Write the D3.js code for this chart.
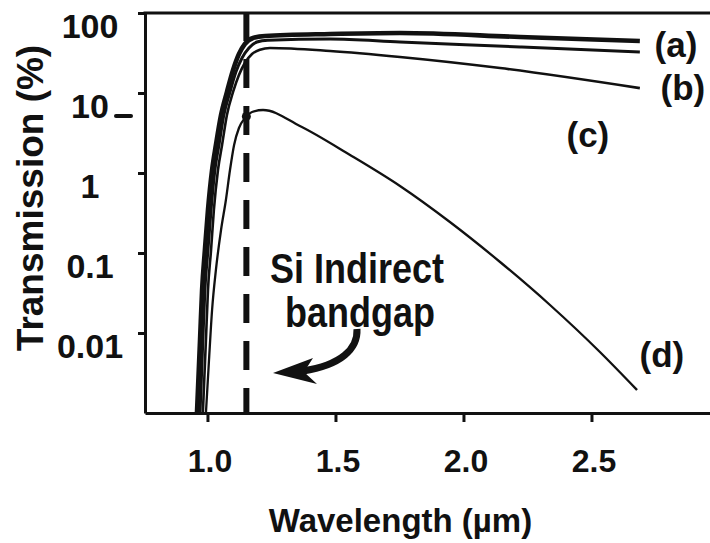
<!DOCTYPE html>
<html>
<head>
<meta charset="utf-8">
<script src="https://cdn.jsdelivr.net/npm/d3@7/dist/d3.min.js"></script>
<style>
  html, body { margin: 0; padding: 0; background: #fff; }
  svg { display: block; }
  text { font-family: "Liberation Sans", Arial, Helvetica, sans-serif; font-weight: bold; fill: #111; }
</style>
</head>
<body>
<svg id="chart" width="710" height="543"></svg>
<script>
// ---------------- DATA ----------------
const wavelengthTicks = [1.0, 1.5, 2.0, 2.5];
const wavelengthTickLabels = ["1.0", "1.5", "2.0", "2.5"];
const transmissionTicks = [100, 10, 1, 0.1, 0.01];
const transmissionTickLabels = ["100", "10", "1", "0.1", "0.01"];

// curve (a) – top
const curveA_wavelength   = [0.959, 0.971, 0.979, 0.990, 1.002, 1.018, 1.033, 1.053, 1.076, 1.100, 1.123, 1.146, 1.178, 1.225, 1.479, 1.752, 2.221, 2.689];
const curveA_transmission = [0.001, 0.0082, 0.0345, 0.109, 0.345, 1.09, 2.24, 5.31, 10.3, 19.4, 30.7, 41.0, 48.7, 51.6, 54.6, 56.2, 50.1, 44.7];
// curve (b)
const curveB_wavelength   = [0.971, 0.982, 0.990, 1.002, 1.014, 1.029, 1.045, 1.064, 1.088, 1.111, 1.135, 1.162, 1.193, 1.236, 1.479, 1.752, 2.221, 2.689];
const curveB_transmission = [0.001, 0.0082, 0.0345, 0.109, 0.345, 1.09, 2.24, 5.31, 10.3, 18.3, 27.4, 36.5, 43.4, 45.8, 47.3, 43.4, 37.6, 32.5];
// curve (c)
const curveC_wavelength   = [0.982, 0.994, 1.002, 1.014, 1.025, 1.041, 1.057, 1.076, 1.100, 1.123, 1.146, 1.174, 1.205, 1.244, 1.479, 1.752, 2.143, 2.689];
const curveC_transmission = [0.001, 0.0082, 0.0345, 0.109, 0.345, 1.09, 2.24, 5.31, 10.3, 16.8, 23.7, 30.7, 34.7, 36.5, 33.5, 28.2, 20.5, 11.5];
// curve (d) – lowest
const curveD_wavelength   = [0.994, 1.006, 1.018, 1.033, 1.053, 1.072, 1.088, 1.104, 1.123, 1.146, 1.174, 1.217, 1.361, 1.557, 1.752, 1.947, 2.143, 2.338, 2.533, 2.678];
const curveD_transmission = [0.001, 0.0046, 0.0194, 0.0615, 0.194, 0.46, 1.09, 2.24, 3.65, 4.87, 5.79, 6.13, 3.87, 1.68, 0.688, 0.244, 0.0772, 0.0224, 0.00579, 0.00194];

const bandgapWavelength = 1.152;
const curveLabels = ["(a)", "(b)", "(c)", "(d)"];
const annotationLines = ["Si Indirect", "bandgap"];

// ---------------- LAYOUT ----------------
const svg = d3.select("#chart");
const plot = { left: 145, right: 710, top: 13, bottom: 413 };

const x = d3.scaleLinear().domain([0.756, 2.963]).range([plot.left, plot.right]);
const y = d3.scaleLog().domain([0.001, 100]).range([plot.bottom, plot.top]);

// curves
const series = [
  { wl: curveA_wavelength, t: curveA_transmission, w: 4.6 },
  { wl: curveB_wavelength, t: curveB_transmission, w: 3.0 },
  { wl: curveC_wavelength, t: curveC_transmission, w: 2.6 },
  { wl: curveD_wavelength, t: curveD_transmission, w: 2.3 }
];
const line = d3.line().x(d => x(d[0])).y(d => y(d[1])).curve(d3.curveMonotoneX);
series.forEach(s => {
  svg.append("path")
    .datum(s.wl.map((w, i) => [w, s.t[i]]))
    .attr("d", line)
    .attr("fill", "none")
    .attr("stroke", "#111")
    .attr("stroke-width", s.w)
    .attr("stroke-linejoin", "round");
});

// dashed bandgap line
svg.append("line")
  .attr("x1", x(bandgapWavelength)).attr("x2", x(bandgapWavelength))
  .attr("y1", y(0.001)).attr("y2", y(100))
  .attr("stroke", "#111").attr("stroke-width", 6)
  .attr("stroke-dasharray", "29,18").attr("stroke-dashoffset", 4);

// blob at crossing of curve (d)
svg.append("circle")
  .attr("cx", x(bandgapWavelength)).attr("cy", y(5.1))
  .attr("r", 4.5).attr("fill", "#111");

// axes
const xAxis = svg.append("g")
  .attr("transform", `translate(0,${plot.bottom})`)
  .call(d3.axisBottom(x).tickValues(wavelengthTicks).tickSize(9).tickSizeOuter(0)
        .tickFormat((d, i) => wavelengthTickLabels[i]));
xAxis.select(".domain").attr("stroke", "#111").attr("stroke-width", 3);
xAxis.selectAll(".tick line").attr("stroke", "#111").attr("stroke-width", 3);
xAxis.selectAll(".tick text")
  .attr("y", 59).attr("dy", null).attr("dx", 2)
  .style("font-size", "32px").style("font-family", '"Liberation Sans", Arial, sans-serif')
  .style("font-weight", "bold").attr("fill", "#111");

const yAxis = svg.append("g")
  .attr("transform", `translate(${plot.left},0)`)
  .call(d3.axisLeft(y).tickValues(transmissionTicks).tickSize(7).tickSizeOuter(0)
        .tickFormat((d, i) => transmissionTickLabels[i]));
yAxis.select(".domain").attr("stroke", "#111").attr("stroke-width", 3);
yAxis.selectAll(".tick line").attr("stroke", "#111").attr("stroke-width", 3);
yAxis.selectAll(".tick text")
  .attr("x", -55).attr("y", 24).attr("dy", null)
  .attr("text-anchor", "middle")
  .style("font-size", "34px").style("font-family", '"Liberation Sans", Arial, sans-serif')
  .style("font-weight", "bold").attr("fill", "#111");

// small dash mark next to the "10" label (as in the scan)
svg.append("line")
  .attr("x1", plot.left - 29).attr("x2", plot.left - 14)
  .attr("y1", y(10) + 23).attr("y2", y(10) + 23)
  .attr("stroke", "#111").attr("stroke-width", 4).attr("stroke-linecap", "round");

// top frame line
svg.append("line")
  .attr("x1", plot.left - 1.5).attr("x2", plot.right)
  .attr("y1", y(100)).attr("y2", y(100))
  .attr("stroke", "#111").attr("stroke-width", 3);

// axis titles
svg.append("text")
  .attr("x", (x(1.0) + x(2.5)) / 2 + 1).attr("y", 532)
  .attr("text-anchor", "middle").style("font-size", "33px")
  .text("Wavelength (\u00B5m)");

svg.append("text")
  .attr("transform", `translate(43,${(y(0.001) + y(100)) / 2 - 15}) rotate(-90)`)
  .attr("text-anchor", "middle").style("font-size", "37px")
  .text("Transmission (%)");

// curve labels
const labelPos = [
  { wl: 2.830, t: 28.2 },
  { wl: 2.857, t: 8.18 },
  { wl: 2.486, t: 2.11 },
  { wl: 2.775, t: 0.00376 }
];
curveLabels.forEach((lab, i) => {
  svg.append("text")
    .attr("x", x(labelPos[i].wl)).attr("y", y(labelPos[i].t))
    .attr("text-anchor", "middle").style("font-size", "35px")
    .text(lab);
});

// annotation text (tall, condensed look)
const annPos = [ { wl: 1.244, t: 0.0422 }, { wl: 1.303, t: 0.0119 } ];
annotationLines.forEach((txt, i) => {
  svg.append("g")
    .attr("transform", `translate(${x(annPos[i].wl)},${y(annPos[i].t)}) scale(1,1.2)`)
    .append("text").attr("x", 0).attr("y", 0)
    .style("font-size", "36px").text(txt);
});

// curved arrow
const tipX = x(1.256), tipY = y(0.00316);
const arrow = svg.append("g").attr("transform", `translate(${tipX},${tipY})`);
arrow.append("path")
  .attr("d", "M84,-44 C85,-24 68,-8 30,-2")
  .attr("fill", "none").attr("stroke", "#111").attr("stroke-width", 7);
arrow.append("path")
  .attr("d", "M0,0 L40,-15 L31,-1 L44,11 Z")
  .attr("fill", "#111");
</script>
</body>
</html>
